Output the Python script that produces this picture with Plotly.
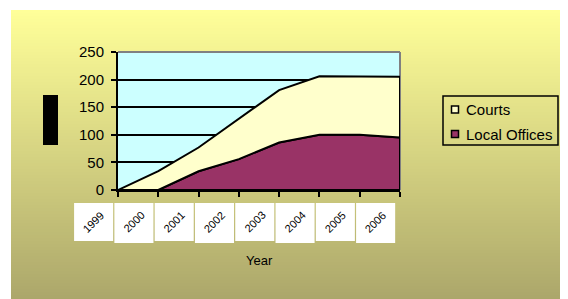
import plotly.graph_objects as go

# ---- data ----
years = ["1999", "2000", "2001", "2002", "2003", "2004", "2005", "2006"]
local_offices = [0, 0, 34, 56, 86, 100, 100, 95]
courts = [0, 34, 43, 73, 95, 106, 106, 110]
y_ticks = [0, 50, 100, 150, 200, 250]
name_courts = "Courts"
name_local = "Local Offices"
x_title = "Year"
y_title = "Number"

# ---- geometry helpers (window pixel coords -> paper coords) ----
OFF = 8                      # page body margin in the browser
WIN_W, WIN_H = 568, 299
W, H = WIN_W - OFF, WIN_H - OFF
PL, PR, PT, PB = 118, 400, 52, 190   # plot area in window coords
L, T = PL - OFF, PT - OFF
R, B = W - (PR - OFF), H - (PB - OFF)
pw, ph = PR - PL, PB - PT


def px(x):
    return (x - PL) / pw


def py(y):
    return (PB - y) / ph


FONT = "Liberation Sans, Arial, sans-serif"
n = len(years)
total = [a + b for a, b in zip(local_offices, courts)]

fig = go.Figure()

# stacked areas (Local Offices bottom, Courts on top)
fig.add_trace(go.Scatter(
    x=years + years[::-1], y=local_offices + [0] * n,
    mode="lines", fill="toself", fillcolor="#993366",
    line=dict(color="black", width=2), name=name_local,
    showlegend=False, hoverinfo="skip"))
fig.add_trace(go.Scatter(
    x=years + years[::-1], y=total + local_offices[::-1],
    mode="lines", fill="toself", fillcolor="#FFFFCC",
    line=dict(color="black", width=2), name=name_courts,
    showlegend=False, hoverinfo="skip"))

shapes = []
# gradient background (stripes)
top_c = (255, 255, 153)
bot_c = (171, 166, 106)
y_start, y_end, step = 10, 299, 3
y = y_start
while y < y_end:
    f = (y - y_start) / (y_end - y_start)
    c = tuple(round(top_c[i] + (bot_c[i] - top_c[i]) * f) for i in range(3))
    shapes.append(dict(type="rect", xref="paper", yref="paper", layer="below",
                       x0=px(11), x1=px(570), y0=py(min(y + step + 0.5, y_end + 2)), y1=py(y),
                       line=dict(width=0), fillcolor="rgb(%d,%d,%d)" % c))
    y += step

# plot area background
shapes.append(dict(type="rect", xref="paper", yref="paper", layer="below",
                   x0=0, x1=1, y0=0, y1=1, line=dict(width=0), fillcolor="#CCFFFF"))
# right border (grey, under traces)
shapes.append(dict(type="line", xref="paper", yref="paper", layer="between",
                   x0=1, x1=1, y0=0, y1=1, line=dict(color="#808080", width=2)))
# top border (grey)
shapes.append(dict(type="line", xref="paper", yref="paper", layer="above",
                   x0=0, x1=1, y0=1, y1=1, line=dict(color="#808080", width=2)))

annotations = []
# category label boxes + labels
for i, yr in enumerate(years):
    odd = i % 2 == 1
    shapes.append(dict(type="rect", xref="paper", yref="paper", layer="below",
                       x0=(i - 1.09) / (n - 1), x1=(i - 0.12) / (n - 1),
                       y0=py(243 if odd else 241), y1=py(203),
                       line=dict(width=0), fillcolor="white"))
    annotations.append(dict(text=yr, xref="paper", yref="paper",
                            x=(i - 0.61) / (n - 1), y=py(222),
                            xanchor="center", yanchor="middle", textangle=-45,
                            showarrow=False, font=dict(family=FONT, size=11, color="black")))

# axis titles
annotations.append(dict(text=x_title, xref="paper", yref="paper", x=px(259), y=py(260),
                        xanchor="center", yanchor="middle", showarrow=False,
                        font=dict(family=FONT, size=13, color="black")))
annotations.append(dict(text=y_title, xref="paper", yref="paper", x=px(50), y=py(120.5),
                        xanchor="center", yanchor="middle", showarrow=False, textangle=-90,
                        width=49, height=14, borderpad=0, bgcolor="black",
                        font=dict(family=FONT, size=10, color="black")))

# legend (drawn manually)
shapes.append(dict(type="rect", xref="paper", yref="paper", layer="above",
                   x0=px(443), x1=px(558), y0=py(145), y1=py(96),
                   line=dict(color="black", width=1.5), fillcolor="rgba(0,0,0,0)"))
for nm, col, yc in [(name_courts, "#FFFFCC", 109.5), (name_local, "#993366", 134)]:
    shapes.append(dict(type="rect", xref="paper", yref="paper", layer="above",
                       x0=px(451.5), x1=px(458.5), y0=py(yc + 3.5), y1=py(yc - 3.5),
                       line=dict(color="black", width=1.5), fillcolor=col))
    annotations.append(dict(text=nm, xref="paper", yref="paper", x=px(463.5), y=py(yc),
                            xanchor="left", yanchor="middle", showarrow=False,
                            font=dict(family=FONT, size=15, color="black")))

fig.update_layout(
    width=W, height=H,
    margin=dict(l=L, r=R, t=T, b=B, pad=0, autoexpand=False),
    paper_bgcolor="white", plot_bgcolor="rgba(0,0,0,0)",
    showlegend=False,
    font=dict(family=FONT, color="black"),
    shapes=shapes, annotations=annotations,
    xaxis=dict(type="category", range=[0, n - 1], showline=True, linecolor="black",
               linewidth=2, ticks="outside", ticklen=5, tickwidth=1.5, tickcolor="black",
               showticklabels=False, showgrid=False, zeroline=False, fixedrange=True),
    yaxis=dict(range=[0, 250], tickvals=y_ticks, showline=True, linecolor="black",
               linewidth=2, ticks="outside", ticklen=5, tickwidth=1.5, tickcolor="black",
               showgrid=True, gridcolor="black", gridwidth=1.5, zeroline=False,
               tickfont=dict(family=FONT, size=15, color="black"), ticklabelstandoff=4,
               fixedrange=True),
)

fig.write_html("out.html")
